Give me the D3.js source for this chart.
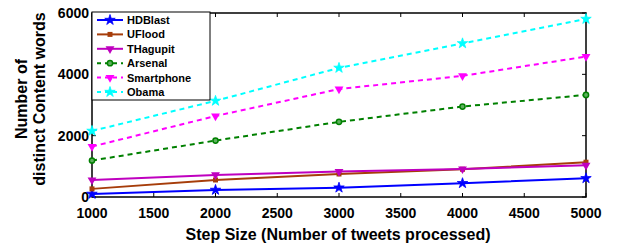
<!DOCTYPE html>
<html>
<head>
<meta charset="utf-8">
<script src="https://cdn.jsdelivr.net/npm/d3@7"></script>
<style>
  body { margin: 0; background: #fff; }
  text { font-family: "Liberation Sans", Arial, sans-serif; font-weight: bold; }
</style>
</head>
<body>
<div id="chart"></div>
<script>
  var steps = [1000, 2000, 3000, 4000, 5000];
  var xTicks = [1000, 1500, 2000, 2500, 3000, 3500, 4000, 4500, 5000];
  var yTicks = [0, 2000, 4000, 6000];

  var hdblast    = [100, 230, 305, 450, 610];
  var uflood     = [265, 555, 750, 905, 1135];
  var thagupit   = [555, 720, 830, 915, 1035];
  var arsenal    = [1190, 1840, 2450, 2950, 3330];
  var smartphone = [1645, 2640, 3520, 3950, 4580];
  var obama      = [2155, 3135, 4210, 5010, 5805];

  var series = [
    {name: "HDBlast", values: hdblast, color: "#0000ff", dash: null, sym: "star"},
    {name: "UFlood", values: uflood, color: "#a63d0a", dash: null, sym: "square"},
    {name: "THagupit", values: thagupit, color: "#bf00bf", dash: null, sym: "tri"},
    {name: "Arsenal", values: arsenal, color: "#008000", dash: "5,4", sym: "circle"},
    {name: "Smartphone", values: smartphone, color: "#ff00ff", dash: "5,4", sym: "tri"},
    {name: "Obama", values: obama, color: "#00ffff", dash: "5,4", sym: "star"}
  ];

  var W = 620, H = 244;
  var margin = {top: 13, right: 34, bottom: 47, left: 92},
      width = W - margin.left - margin.right,
      height = H - margin.top - margin.bottom;

  var svg = d3.select("#chart").append("svg")
      .attr("width", W).attr("height", H);
  var g = svg.append("g").attr("transform", "translate(" + margin.left + "," + margin.top + ")");

  var x = d3.scaleLinear().domain([1000, 5000]).range([0, width]);
  var y = d3.scaleLinear().domain([0, 6000]).range([height, 0]);

  // box and ticks (inward, matlab style)
  g.append("rect").attr("width", width).attr("height", height)
    .attr("fill", "none").attr("stroke", "#000").attr("stroke-width", 1.5);

  var tl = 4;
  g.selectAll(".xt").data(xTicks).enter().append("path")
    .attr("d", d => "M" + x(d) + "," + height + "v" + (-tl) + "M" + x(d) + ",0v" + tl)
    .attr("stroke", "#000").attr("stroke-width", 1);
  g.selectAll(".yt").data(yTicks).enter().append("path")
    .attr("d", d => "M0," + y(d) + "h" + tl + "M" + width + "," + y(d) + "h" + (-tl))
    .attr("stroke", "#000").attr("stroke-width", 1);

  g.selectAll(".xl").data(xTicks).enter().append("text")
    .attr("x", d => x(d)).attr("y", height + 21)
    .attr("text-anchor", "middle").attr("font-size", 14)
    .text(d => d);
  g.selectAll(".yl").data(yTicks).enter().append("text")
    .attr("x", -3).attr("y", d => y(d) + 5)
    .attr("text-anchor", "end").attr("font-size", 14)
    .text(d => d);

  svg.append("text")
    .attr("x", 338).attr("y", 240)
    .attr("text-anchor", "middle").attr("font-size", 16)
    .text("Step Size (Number of tweets processed)");

  var yl = svg.append("text")
    .attr("transform", "translate(27,99) rotate(-90)")
    .attr("text-anchor", "middle").attr("font-size", 16);
  yl.append("tspan").attr("x", 0).attr("dy", 0).text("Number of");
  yl.append("tspan").attr("x", 0).attr("dy", 18).text("distinct Content words");

  function marker(sel, s) {
    if (s.sym === "star") {
      sel.append("path").attr("d", d3.symbol(d3.symbolStar, 34))
        .attr("fill", s.color).attr("stroke", s.color).attr("stroke-width", 0.8);
    } else if (s.sym === "square") {
      sel.append("path").attr("d", d3.symbol(d3.symbolSquare, 25))
        .attr("fill", s.color);
    } else if (s.sym === "tri") {
      sel.append("path").attr("d", d3.symbol(d3.symbolTriangle, 34))
        .attr("transform", "rotate(180)")
        .attr("fill", s.color);
    } else {
      sel.append("circle").attr("r", 2.6)
        .attr("fill", "#5fb05f").attr("stroke", s.color).attr("stroke-width", 1.5);
    }
  }

  var line = d3.line().x((d, i) => x(steps[i])).y(d => y(d));

  series.forEach(function(s) {
    g.append("path").datum(s.values)
      .attr("d", line).attr("fill", "none")
      .attr("stroke", s.color).attr("stroke-width", 2)
      .attr("stroke-dasharray", s.dash);
    s.values.forEach(function(v, i) {
      var m = g.append("g").attr("transform", "translate(" + x(steps[i]) + "," + y(v) + ")");
      marker(m, s);
    });
  });

  // legend
  var lg = svg.append("g").attr("transform", "translate(92,12)");
  lg.append("rect").attr("width", 118).attr("height", 88)
    .attr("fill", "#fff").attr("stroke", "#000").attr("stroke-width", 1);
  series.forEach(function(s, i) {
    var yy = 8 + i * 14.4;
    lg.append("line").attr("x1", 5).attr("x2", 31).attr("y1", yy).attr("y2", yy)
      .attr("stroke", s.color).attr("stroke-width", 2)
      .attr("stroke-dasharray", s.dash ? "4,4" : null);
    var m = lg.append("g").attr("transform", "translate(18," + yy + ")");
    marker(m, s);
    lg.append("text").attr("x", 35).attr("y", yy + 4)
      .attr("font-size", 11).text(s.name);
  });
</script>
</body>
</html>
